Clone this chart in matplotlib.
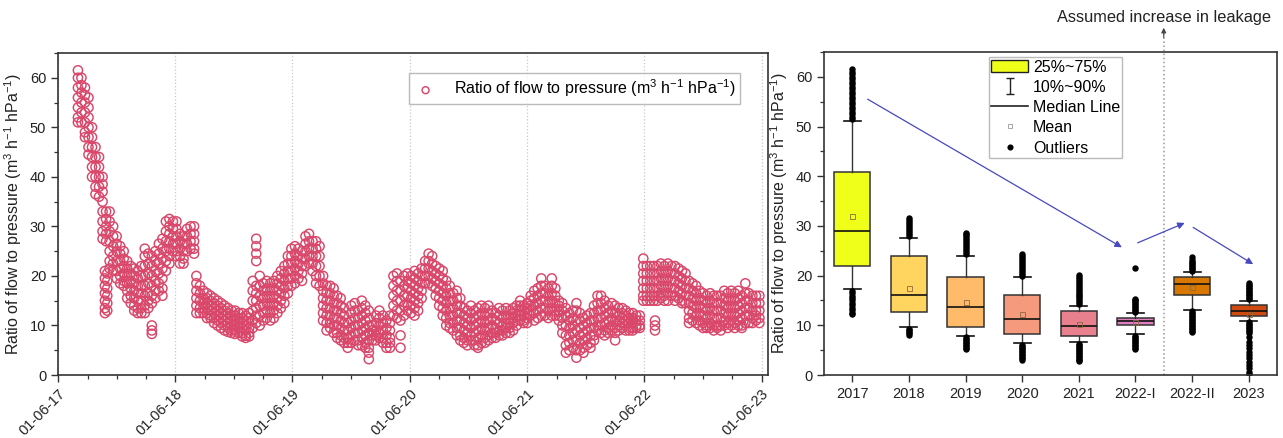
import numpy as np
import pandas as pd
import matplotlib
matplotlib.use("Agg")
import matplotlib.pyplot as plt
import matplotlib.dates as mdates
from matplotlib.lines import Line2D
from matplotlib.patches import Patch
from matplotlib.path import Path

plt.rcParams['font.family'] = ['Liberation Sans', 'DejaVu Sans']
plt.rcParams['mathtext.fontset'] = 'custom'
plt.rcParams['mathtext.rm'] = 'Liberation Sans'
plt.rcParams['mathtext.it'] = 'Liberation Sans:italic'
plt.rcParams['mathtext.bf'] = 'Liberation Sans:bold'

# ---------------- left panel data (offset in years from 2017-06-01, values) ----------------
start_date = "2017-06-01"
obs_offset_years = [
    0.17, 0.20, 0.23, 0.26, 0.29, 0.32, 0.35, 0.38, 0.40, 0.42, 0.41, 0.44, 0.47, 0.50,
    0.53, 0.56, 0.59, 0.62, 0.65, 0.68, 0.71, 0.74, 0.77, 0.80, 0.80, 0.83, 0.86, 0.89,
    0.92, 0.95, 0.98, 1.01, 1.04, 1.07, 1.10, 1.13, 1.16,
    1.18, 1.21, 1.24, 1.27, 1.30, 1.33, 1.36, 1.39, 1.42, 1.45, 1.48, 1.51, 1.54, 1.57,
    1.60, 1.63, 1.66, 1.69, 1.69, 1.72, 1.75, 1.78, 1.81, 1.84, 1.87, 1.90, 1.93, 1.96,
    1.99, 2.02, 2.05, 2.08, 2.11, 2.14, 2.17, 2.20, 2.23, 2.26, 2.29, 2.32, 2.35, 2.38,
    2.41, 2.44, 2.47, 2.50, 2.53, 2.56, 2.59, 2.62, 2.65, 2.68, 2.71, 2.74, 2.77, 2.80,
    2.83, 2.86, 2.89, 2.92, 2.95, 2.98,
    3.01, 3.04, 3.07, 3.10, 3.13, 3.16, 3.19, 3.22, 3.25, 3.28, 3.31, 3.34, 3.37, 3.40,
    3.43, 3.46, 3.49, 3.52, 3.55, 3.58, 3.61, 3.64, 3.67, 3.70, 3.73, 3.76, 3.79, 3.82,
    3.85, 3.88, 3.91, 3.94, 3.97, 4.00, 4.03, 4.06, 4.09, 4.12, 4.15, 4.18, 4.21, 4.24,
    4.27, 4.30, 4.33, 4.36, 4.39, 4.42, 4.45, 4.48, 4.51, 4.54, 4.57, 4.60, 4.63, 4.66,
    4.69, 4.72, 4.75, 4.78, 4.81, 4.84, 4.87, 4.90, 4.93, 4.96,
    4.99, 5.02, 5.05, 5.08, 5.09, 5.11, 5.14, 5.17, 5.20, 5.23, 5.26, 5.29, 5.32, 5.35,
    5.38, 5.41, 5.44, 5.47, 5.50, 5.53, 5.56, 5.59, 5.62, 5.65, 5.68, 5.71, 5.74, 5.77,
    5.80, 5.83, 5.86, 5.89, 5.92, 5.95, 5.98,
]
obs_values = [
    [61.5, 60, 58, 56, 54, 52, 51], [60, 58.5, 57, 55, 53, 51], [58, 56.5, 55, 53, 51, 49, 48],
    [56, 54, 52, 50, 48, 46, 44.5], [50, 48, 46, 44, 42, 40], [46, 44, 42, 40, 38, 36.5],
    [44, 42, 40, 38, 36], [40, 38.5, 37, 35, 33, 31, 29, 27.5],
    [21, 19.5, 18, 16.5, 15, 13.5, 12.5], [20.5, 19, 17.5, 16, 14.5, 13],
    [33, 31.5, 30, 28.5, 27], [33, 31, 29, 27, 25, 23, 21.5], [30, 28, 26, 24, 22.5, 21],
    [28, 26.5, 25, 23, 21, 19.5], [26, 24.5, 23, 21.5, 20, 18.5], [25, 23.5, 22, 20.5, 19, 18],
    [23, 21.5, 20, 18.5, 17, 15.5], [22, 20.5, 19, 17.5, 16, 14.5], [21.5, 20, 18.5, 17, 15.5, 14, 13],
    [21, 19.5, 18, 16.5, 15, 13.5, 12.5], [22, 20, 18, 16.5, 15, 13.5, 12.5],
    [25.5, 24, 22, 20, 18, 16, 14, 12.5], [24.5, 22.5, 20.5, 18.5, 16.5, 15, 13.5],
    [24, 22, 20, 18, 16, 14.5], [10, 9, 8.3], [25, 23, 21, 19, 17, 15.5],
    [26.5, 24.5, 22.5, 20.5, 18.5, 17], [27.5, 25.5, 23.5, 21.5, 19.5, 17.5, 16],
    [31, 29, 27, 25, 23, 21], [31.5, 30, 28.5, 27, 25.5, 24, 22.5], [31, 29.5, 28, 26.5, 25],
    [31, 29.5, 28, 26.5, 25, 24], [28.5, 27, 25.5, 24, 22.5], [28, 26.5, 25, 23.5, 22.5],
    [29.5, 28, 26.5, 25], [30, 28.5, 27, 25.5], [30, 28.5, 27, 25.5, 24.5],
    # 2018-2019
    [20, 18.5, 17, 15.5, 14, 12.5], [18, 16.5, 15, 13.5, 12.5], [17, 15.5, 14.5, 13.5, 12.5],
    [16.5, 15.5, 14.5, 13.5, 12.5, 11.5], [16, 15, 14, 13, 12, 11.5], [15.5, 14.5, 13.5, 12.5, 11.5, 10.5],
    [15, 14, 13, 12, 11, 10], [14.5, 13.5, 12.5, 11.5, 10.5, 9.5], [14, 13, 12, 11, 10, 9],
    [13.5, 12.5, 11.5, 10.5, 9.5, 8.7], [13, 12, 11, 10, 9, 8.5], [13, 12, 11, 10, 9, 8.3],
    [12.5, 11.5, 10.5, 9.5, 8.5], [12.5, 11.5, 10.5, 9.5, 8.5, 7.8], [12, 11, 10, 9, 8, 7.5],
    [12.5, 11.5, 10.5, 9.5, 8.5, 7.8], [19, 17, 15, 13, 11, 9.5], [27.5, 26, 24.5, 23],
    [18, 16.5, 15, 13.5, 12, 10.5], [20, 18, 16, 14, 12, 10], [18.5, 17, 15.5, 14, 12.5, 11],
    [19, 17.5, 16, 14.5, 13, 11.5], [18.5, 17, 15.5, 14, 12.5, 11], [19, 17.5, 16, 14.5, 13, 11.5],
    [20, 18.5, 17, 15.5, 14, 12.5], [21, 19.5, 18, 16.5, 15, 13.5], [22, 20.5, 19, 17.5, 16, 14.5],
    [24, 22.5, 21, 19.5, 18, 16.5], [25.5, 24, 22.5, 21, 19.5, 18], [26, 24.5, 23, 21.5, 20, 18.5],
    [25.5, 24, 22.5, 21, 19.5], [25, 23.5, 22, 20.5, 19], [28, 26.5, 25, 23.5, 22],
    [28.5, 27, 25.5, 24, 22.5], [27, 25.5, 24, 22.5, 21], [27, 25.5, 24, 22, 20, 18.5],
    [26, 24, 22, 20, 18], [20, 18.5, 17, 15.5, 14, 12.5, 11], [18, 16.5, 15, 13.5, 12, 10.5, 9],
    [18, 16.5, 15, 13.5, 12, 10.5, 9.5], [17.5, 16, 14.5, 13, 11.5, 10, 8.5],
    [16, 14.5, 13, 11.5, 10, 8.5, 7.5], [15.5, 14, 12.5, 11, 9.5, 8, 7], [13.5, 12, 10.5, 9, 7.5, 6.5],
    [10.5, 9, 7.5, 6.5, 5.5], [14, 12.5, 11, 9.5, 8, 6.5], [14.5, 13, 11.5, 10, 8.5, 7],
    [13, 11.5, 10, 8.5, 7, 6], [15, 13.5, 12, 10.5, 9, 7.5, 6], [14, 12.5, 11, 9.5, 8, 6.5, 5.5],
    [13, 11.5, 10, 8.5, 7, 5.5, 4.5, 3.2], [10, 9, 8, 7], [12, 10.5, 9, 8, 7], [13, 11.5, 10, 8.5, 7.5],
    [12, 10.5, 9, 7.5, 6.5], [11, 9.5, 8, 6.5, 5.5], [12, 10.5, 9, 7.5, 6.5, 5.5],
    [20, 18, 16, 14, 12], [20.5, 19, 17, 15, 13, 11.5], [19, 17, 15, 13, 11, 8, 5.5],
    [20, 18, 16, 14, 12], [20.5, 19, 17.5, 16, 14.5, 13],
    # 2020-2021
    [20, 18.5, 17, 15.5, 14, 12.5], [21, 19.5, 18, 16.5, 15, 13.5, 12], [20.5, 19, 17.5, 16, 14.5, 13],
    [21.5, 20, 18.5, 17, 15.5], [23, 21.5, 20, 18.5], [24.5, 23, 21.5, 20, 18.5],
    [24, 22.5, 21, 19.5, 18], [22, 20.5, 19, 17.5, 16], [21.5, 20, 18.5, 17, 15.5, 14],
    [21, 19.5, 18, 16.5, 15, 13.5, 12], [19, 17.5, 16, 14.5, 13, 11.5, 10],
    [18, 16.5, 15, 13.5, 12, 10.5, 9.5], [16.5, 15, 13.5, 12, 10.5, 9],
    [17, 15.5, 14, 12.5, 11, 9.5, 8], [15.5, 14, 12.5, 11, 9.5, 8, 7], [13.5, 12, 10.5, 9, 7.5, 6.5],
    [13, 11.5, 10, 8.5, 7, 6], [14, 12.5, 11, 9.5, 8, 7], [13, 11.5, 10, 8.5, 7, 6],
    [13.5, 12, 10.5, 9, 7.5, 6, 5.5], [14, 12.5, 11, 9.5, 8, 6.5], [13.5, 12, 10.5, 9, 7.5, 6.5],
    [14, 12.5, 11, 9.5, 8, 7], [13, 11.5, 10, 8.5, 7.5], [12.5, 11, 9.5, 8.5, 7.5],
    [13.5, 12, 10.5, 9, 8], [13, 11.5, 10, 9, 8], [13.5, 12, 10.5, 9.5, 8.5],
    [13, 11.5, 10.5, 9.5, 8.5], [13.5, 12.5, 11.5, 10.5, 9], [14, 13, 12, 11, 10],
    [15, 14, 13, 12, 11], [14, 13, 12, 11, 10.5], [14.5, 13.5, 12.5, 11.5, 10.5],
    [16, 15, 14, 13, 12], [17, 15.5, 14, 12.5, 11], [17.5, 16, 14.5, 13, 11.5],
    [19.5, 18, 16.5, 15, 13.5, 12], [18, 16.5, 15, 13.5, 12], [17.5, 16, 14.5, 13, 11.5],
    [19.5, 18, 16.5, 15, 13.5, 12], [17.5, 16, 14.5, 13, 12], [15, 14, 13, 12, 11],
    [14.5, 13, 11.5, 10, 8.5], [13.5, 12, 10, 8, 6, 4.5], [12.5, 11, 9.5, 8, 6.5, 5],
    [13, 11.5, 10, 8.5, 7, 5.5], [14.5, 13, 11, 9, 7, 5, 3.5], [12.5, 11, 9.5, 8, 6.5, 5],
    [11.5, 10, 8.5, 7, 5.5, 4.5], [12, 10.5, 9, 7.5, 6], [12.5, 11, 9.5, 8, 6.5, 5.5],
    [14, 12.5, 11, 9.5, 8, 7], [16, 14.5, 13, 11.5, 10, 9], [16, 14.5, 13, 11.5, 10, 8.5],
    [15, 13.5, 12, 10.5, 9, 8], [14, 12.5, 11, 9.5, 8.5], [14.5, 13, 11.5, 10, 9],
    [14, 12.5, 11, 9.5, 8.5, 7], [13.5, 12, 11, 10, 9], [13.5, 12.5, 11.5, 10.5, 9.5],
    [13, 12, 11, 10, 9], [12.5, 11.5, 10.5, 9.5, 9], [12.5, 11.5, 10.5, 9.5, 9],
    [12, 11, 10, 9.5], [12, 11, 10, 9.5],
    # 2022-2023
    [23.5, 22, 20.5, 19, 17.5, 16, 15], [22, 20.5, 19, 17.5, 16, 15], [22, 20.5, 19, 17.5, 16, 15],
    [22, 20.5, 19, 17.5, 16, 15], [11, 10, 9], [22, 20.5, 19, 17.5, 16, 15],
    [22.5, 21, 19.5, 18, 16.5, 15.5], [22, 20.5, 19, 17.5, 16, 15], [22.5, 21, 19.5, 18, 16.5, 15],
    [22, 20.5, 19, 17.5, 16], [22, 20.5, 19, 17.5, 16, 15], [21.5, 20, 18.5, 17, 15.5],
    [21, 19.5, 18, 16.5, 15, 14.5], [20.5, 19, 17.5, 16, 14.5],
    [19, 17.5, 16, 14.5, 13, 11.5, 10.5], [18.5, 17, 15.5, 14, 12.5, 11], [18, 16.5, 15, 13.5, 12, 10.5],
    [17, 15.5, 14, 12.5, 11, 10], [16.5, 15, 13.5, 12, 10.5, 9.5], [16, 14.5, 13, 11.5, 10, 9.5],
    [16.5, 15, 13.5, 12, 10.5, 9.5], [16, 14.5, 13, 11.5, 10, 9], [16, 14.5, 13, 11.5, 10, 9.5],
    [16, 14.5, 13, 11.5, 10, 9], [17, 15.5, 14, 12.5, 11, 10], [16.5, 15, 13.5, 12, 10.5, 9.5],
    [17, 15.5, 14, 12.5, 11, 10], [16.5, 15, 13.5, 12, 10.5, 9.5], [17, 15.5, 14, 12.5, 11, 10],
    [16, 14.5, 13, 11.5, 10, 9.5], [18.5, 16.5, 15, 13.5, 12, 10.5], [16.5, 15, 13.5, 12, 10.5],
    [16, 14.5, 13, 11.5, 10.5], [16, 14.5, 13, 12, 11], [16, 14.5, 13, 11.5, 10.5],
]

# ---------------- right panel data ----------------
categories = ["2017", "2018", "2019", "2020", "2021", "2022-I", "2022-II", "2023"]
q1 = [21.9, 12.6, 9.7, 8.3, 7.9, 10.0, 16.1, 11.8]
q3 = [40.9, 23.9, 19.7, 16.1, 12.8, 11.5, 19.7, 14.0]
median = [29.0, 16.1, 13.7, 11.2, 9.9, 10.8, 18.4, 12.9]
mean = [31.9, 17.5, 14.7, 12.3, 10.3, 10.6, 17.7, 12.3]
p10 = [17.4, 9.6, 7.9, 6.4, 6.6, 8.2, 13.1, 10.9]
p90 = [51.1, 27.5, 23.9, 19.7, 13.9, 12.4, 20.7, 14.9]
outliers = [
    [51.5, 52, 52.5, 53, 53.5, 54, 54.5, 55, 55.5, 56, 56.5, 57, 57.5, 58, 58.5, 59, 59.5, 60, 60.5, 61, 61.5,
     17, 16.5, 16, 15.5, 15, 14.5, 14, 13.5, 13, 12.5, 12.2],
    [27.9, 28.3, 28.7, 29.1, 29.5, 29.9, 30.3, 30.7, 31.1, 31.5, 9.3, 9.0, 8.7, 8.4, 8.1],
    [24.3, 24.7, 25.1, 25.5, 25.9, 26.3, 26.7, 27.1, 27.5, 27.9, 28.3, 28.6,
     7.6, 7.3, 7.0, 6.7, 6.4, 6.1, 5.8, 5.5, 5.2],
    [20.0, 20.4, 20.8, 21.2, 21.6, 22.0, 22.4, 22.8, 23.2, 23.6, 24.0, 24.4,
     6.1, 5.8, 5.5, 5.2, 4.9, 4.6, 4.3, 4.0, 3.7, 3.4, 3.0],
    [14.2, 14.6, 15.0, 15.4, 15.8, 16.2, 16.6, 17.0, 17.4, 17.8, 18.2, 18.6, 19.0, 19.4, 19.8, 20.2,
     6.3, 6.0, 5.7, 5.4, 5.1, 4.8, 4.5, 4.2, 3.9, 3.6, 3.3, 3.0, 2.8],
    [12.7, 13.0, 13.3, 13.6, 13.9, 14.2, 14.5, 14.8, 15.1, 15.3, 21.5,
     7.9, 7.6, 7.3, 7.0, 6.7, 6.4, 6.1, 5.8, 5.5, 5.2],
    [21.0, 21.3, 21.6, 21.9, 22.2, 22.5, 22.8, 23.1, 23.8,
     12.8, 12.5, 12.2, 11.9, 11.6, 11.3, 11.0, 10.7, 10.4, 10.1, 9.8, 9.5, 9.2, 8.9, 8.6],
    [15.2, 15.5, 15.8, 16.1, 16.4, 16.7, 17.0, 17.3, 17.6, 17.9, 18.2, 18.6,
     10.6, 10.3, 10.0, 9.7, 9.4, 9.1, 8.8, 8.5, 7.7, 6.7, 6.0, 5.4, 4.7, 4.0, 3.4, 2.7, 2.0, 1.35, 0.7, 0.2],
]
box_colors = ["#F0FF1A", "#FFD45F", "#FFBB6A", "#F59A7C", "#E8808E", "#E07EBF", "#D97800", "#D04A10"]
trend_arrows = [((1.27, 55.5), (5.76, 25.7)), ((6.04, 26.6), (6.87, 30.6)), ((7.02, 29.7), (8.08, 22.3))]

# ---------------- figure ----------------
fig = plt.figure(figsize=(12.83, 4.38), dpi=100)
axL = fig.add_axes([0.0452, 0.1438, 0.5534, 0.7352])
axR = fig.add_axes([0.6423, 0.1438, 0.3530, 0.7375])

spine_col = "#333333"
lab_fs = 11.5
tick_fs = 10.5
ylabel_txt = "Ratio of flow to pressure (m$^{3}$ h$^{\\mathrm{-1}}$ hPa$^{\\mathrm{-1}}$)"

# left scatter
t0 = pd.Timestamp(start_date)
xs, ys = [], []
for off, vals in zip(obs_offset_years, obs_values):
    d = t0 + pd.Timedelta(days=off * 365.25)
    for v in vals:
        xs.append(d)
        ys.append(v)
axL.scatter(xs, ys, s=44, facecolors="none", edgecolors="#D9476A", linewidths=1.05,
            zorder=3, label=ylabel_txt)

axL.set_xlim(pd.Timestamp("2017-06-01"), pd.Timestamp("2023-06-21"))
axL.set_ylim(0, 65)
axL.xaxis.set_major_locator(mdates.YearLocator(month=6, day=1))
axL.xaxis.set_major_formatter(mdates.DateFormatter("%d-%m-%y"))
axL.xaxis.set_minor_locator(mdates.MonthLocator(bymonth=[3, 6, 9, 12], bymonthday=1))
axL.yaxis.set_major_locator(plt.MultipleLocator(10))
axL.yaxis.set_minor_locator(plt.MultipleLocator(5))
axL.grid(axis="x", which="major", linestyle=":", color="#c8c8c8", linewidth=0.9, zorder=0)
for lbl in axL.get_xticklabels():
    lbl.set_rotation(45)
    lbl.set_ha("right")
    lbl.set_rotation_mode("anchor")
axL.set_ylabel(ylabel_txt, fontsize=lab_fs, labelpad=4)
leg = axL.legend(loc="upper right", bbox_to_anchor=(0.972, 0.963), fontsize=11.5, frameon=True,
                 fancybox=False, edgecolor="#aaaaaa", handletextpad=1.0, borderpad=0.3,
                 markerscale=0.75, handlelength=1.5)
leg.get_frame().set_linewidth(1.0)

# right box plot
positions = np.arange(1, len(categories) + 1)
stats = []
for i in range(len(categories)):
    stats.append(dict(med=median[i], q1=q1[i], q3=q3[i], whislo=p10[i], whishi=p90[i],
                      mean=mean[i], fliers=outliers[i], label=categories[i]))
bp = axR.bxp(stats, positions=positions, widths=0.64, showmeans=True, patch_artist=True,
             capwidths=0.3,
             boxprops=dict(edgecolor="#333333", linewidth=1.1),
             medianprops=dict(color="#111111", linewidth=1.2),
             whiskerprops=dict(color="#333333", linewidth=1.0),
             capprops=dict(color="#111111", linewidth=1.2),
             meanprops=dict(marker="s", markersize=3.6, markerfacecolor="none",
                            markeredgecolor="#8a6a40", markeredgewidth=0.6),
             flierprops=dict(marker="o", markersize=3.6, markerfacecolor="black",
                             markeredgecolor="black", linestyle="none"))
for patch, c in zip(bp["boxes"], box_colors):
    patch.set_facecolor(c)

axR.set_xlim(0.5, 8.5)
axR.set_ylim(0, 65)
axR.yaxis.set_major_locator(plt.MultipleLocator(10))
axR.yaxis.set_minor_locator(plt.MultipleLocator(5))
axR.set_ylabel(ylabel_txt, fontsize=lab_fs, labelpad=4)

# trend arrows
for (p0, p1) in trend_arrows:
    axR.annotate("", xy=p1, xytext=p0,
                 arrowprops=dict(arrowstyle="-|>", color="#4848C0", lw=0.9,
                                 mutation_scale=10, shrinkA=0, shrinkB=0))

# dotted separator with arrow above the axes
axR.plot([6.5, 6.5], [0, 1.055], transform=axR.get_xaxis_transform(), linestyle=":",
         color="#999999", lw=1.1, clip_on=False, zorder=1)
axR.annotate("", xy=(6.5, 1.075), xytext=(6.5, 1.045),
             xycoords=axR.get_xaxis_transform(), textcoords=axR.get_xaxis_transform(),
             arrowprops=dict(arrowstyle="-|>", color="#444444", lw=0.8, mutation_scale=7,
                             shrinkA=0, shrinkB=0), annotation_clip=False)
axR.text(6.5, 1.108, "Assumed increase in leakage", transform=axR.get_xaxis_transform(),
         ha="center", va="center", fontsize=11.8, color="#222222")

# legend on right
ibeam = Path([(-0.5, 1), (0.5, 1), (0, 1), (0, -1), (-0.5, -1), (0.5, -1)],
             [Path.MOVETO, Path.LINETO, Path.MOVETO, Path.LINETO, Path.MOVETO, Path.LINETO])
handles = [
    Patch(facecolor=box_colors[0], edgecolor="#222222", linewidth=1.0),
    Line2D([], [], marker=ibeam, markersize=12, color="#222222", markeredgewidth=1.0, linestyle="none"),
    Line2D([], [], color="#222222", lw=1.2),
    Line2D([], [], marker="s", markersize=3.2, markerfacecolor="none", markeredgecolor="#999999",
           markeredgewidth=0.6, linestyle="none"),
    Line2D([], [], marker="o", markersize=3.4, color="black", linestyle="none"),
]
labels = ["25%~75%", "10%~90%", "Median Line", "Mean", "Outliers"]
legR = axR.legend(handles, labels, loc="upper left", bbox_to_anchor=(0.364, 0.984), fontsize=11.5,
                  frameon=True, fancybox=False, edgecolor="#aaaaaa", borderpad=0.15,
                  labelspacing=0.33, handlelength=2.3, handleheight=0.85, handletextpad=0.3,
                  borderaxespad=0)
legR.get_frame().set_linewidth(1.0)

for ax in (axL, axR):
    for sp in ax.spines.values():
        sp.set_color(spine_col)
        sp.set_linewidth(1.2)
    ax.tick_params(which="major", direction="out", length=5, width=1.0, color=spine_col,
                   labelsize=tick_fs, labelcolor="#222222")
    ax.tick_params(which="minor", direction="out", length=3, width=0.9, color=spine_col)
    ax.yaxis.label.set_color("#222222")
axR.tick_params(axis="x", which="minor", length=0)

fig.savefig("out.png", dpi=100)
